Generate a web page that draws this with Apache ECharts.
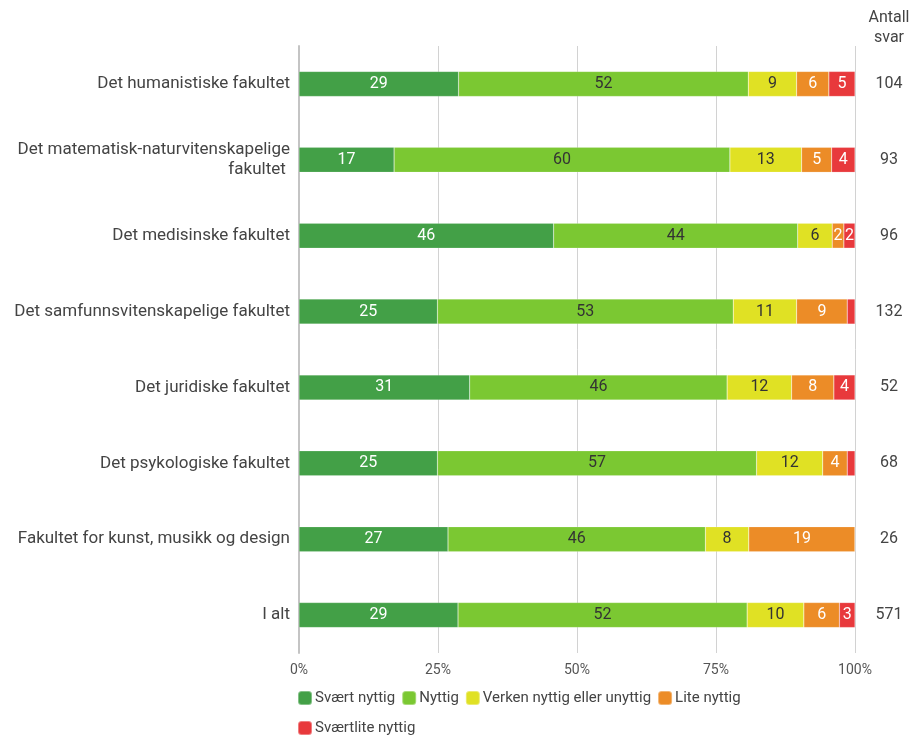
<!DOCTYPE html>
<html>
<head>
<meta charset="utf-8">
<script src="https://cdn.jsdelivr.net/npm/echarts@6/dist/echarts.min.js"></script>
<style>html,body{margin:0;padding:0;background:#fff}#c{width:920px;height:738px}</style>
</head>
<body>
<div id="c"></div>
<script>
const categories = [
  'Det humanistiske fakultet',
  'Det matematisk-naturvitenskapelige\nfakultet ',
  'Det medisinske fakultet',
  'Det samfunnsvitenskapelige fakultet',
  'Det juridiske fakultet',
  'Det psykologiske fakultet',
  'Fakultet for kunst, musikk og design',
  'I alt'
];
const antallSvar = [104, 93, 96, 132, 52, 68, 26, 571];
const svaertNyttig = [28.7, 17.1, 45.8, 24.9, 30.7, 24.9, 26.8, 28.6];
const nyttig = [52.1, 60.4, 43.9, 53.2, 46.3, 57.4, 46.3, 52.0];
const verken = [8.7, 12.9, 6.2, 11.4, 11.6, 11.9, 7.8, 10.2];
const lite = [5.8, 5.4, 2.1, 9.1, 7.6, 4.4, 19.1, 6.4];
const svaertLite = [4.7, 4.2, 2.0, 1.4, 3.8, 1.4, 0, 2.8];
const seriesNames = ['Svært nyttig', 'Nyttig', 'Verken nyttig eller unyttig', 'Lite nyttig', 'Sværtlite nyttig'];
const xTicks = [0, 25, 50, 75, 100];

const colors = ['#43A047', '#7BC832', '#E0E124', '#EC8C27', '#E8393C'];
const labelColors = ['#ffffff', '#333333', '#333333', '#ffffff', '#ffffff'];
const font = 'Roboto, "Noto Sans", sans-serif';

const chart = echarts.init(document.getElementById('c'), null, {renderer: 'canvas'});
const seriesData = [svaertNyttig, nyttig, verken, lite, svaertLite];

chart.setOption({
  animation: false,
  textStyle: {fontFamily: font},
  grid: {left: 299, right: 65, top: 46, bottom: 85, containLabel: false},
  xAxis: {
    type: 'value', min: xTicks[0], max: xTicks[xTicks.length - 1], interval: 25,
    axisLine: {show: false}, axisTick: {show: false},
    splitLine: {lineStyle: {color: '#d2d2d2', width: 1}},
    axisLabel: {formatter: '{value}%', color: '#555', fontSize: 14, margin: 10, fontFamily: font}
  },
  yAxis: [{
    type: 'category', data: categories, inverse: true,
    axisLine: {show: true, lineStyle: {color: '#c4c4c4', width: 2}},
    axisTick: {show: false},
    axisLabel: {color: '#444', fontSize: 17, margin: 9, fontFamily: font, lineHeight: 20, align: 'right'}
  }, {
    type: 'category', data: antallSvar.map(String), inverse: true, position: 'right',
    axisLine: {show: false}, axisTick: {show: false},
    axisLabel: {color: '#444', fontSize: 16, margin: 34, align: 'center', fontFamily: font}
  }],
  legend: {
    left: 297, top: 686, width: 470, padding: 0,
    itemWidth: 14, itemHeight: 14, itemGap: 6,
    icon: 'roundRect',
    textStyle: {color: '#444', fontSize: 15, lineHeight: 24, fontFamily: font, padding: [0, 0, 0, -2]},
    data: seriesNames
  },
  graphic: [{
    type: 'text', x: 889, y: 8,
    style: {text: 'Antall\nsvar', fill: '#444', font: '16px Roboto', align: 'center', lineHeight: 20}
  }],
  series: seriesNames.map((name, i) => ({
    name, type: 'bar', stack: 'total', barWidth: 25,
    itemStyle: {color: colors[i], borderColor: 'rgba(255,255,255,0.35)', borderWidth: 0.5},
    label: {
      show: true, position: 'inside', color: labelColors[i], fontSize: 16, fontFamily: font,
      formatter: p => (p.value >= 1.5 ? Math.round(p.value) : '')
    },
    data: seriesData[i]
  }))
});
</script>
</body>
</html>
